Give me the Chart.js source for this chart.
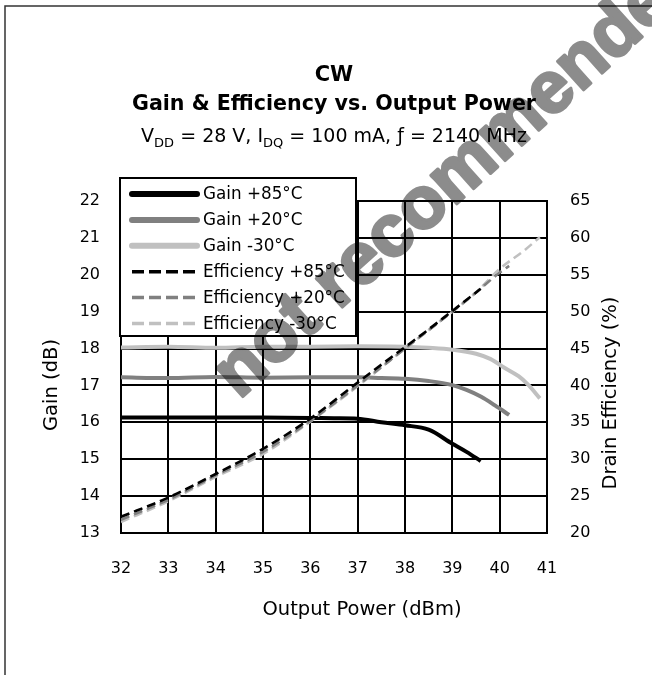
<!DOCTYPE html>
<html>
<head>
<meta charset="utf-8">
<script src="https://cdn.jsdelivr.net/npm/chart.js@4.4.1/dist/chart.umd.min.js"></script>
<style>
html,body{margin:0;padding:0;background:#fff;}
#wrap{width:652px;height:675px;position:relative;}
canvas{display:block;}
</style>
</head>
<body>
<div id="wrap"><canvas id="c" width="652" height="675"></canvas></div>
<script>
// ---------- text ----------
const titleLine1 = 'CW';
const titleLine2 = 'Gain & Efficiency vs. Output Power';
// subtitle pieces: [text, isSubscript]
const subtitleParts = [['V', false], ['DD', true], [' = 28 V, I', false], ['DQ', true], [' = 100 mA, ƒ = 2140 MHz', false]];
const xTitle = 'Output Power (dBm)';
const yTitle = 'Gain (dB)';
const y1Title = 'Drain Efficiency (%)';
const watermarkText = 'not recommended';

// ---------- tick labels ----------
const xTicks = [32, 33, 34, 35, 36, 37, 38, 39, 40, 41];
const gainTicks = [13, 14, 15, 16, 17, 18, 19, 20, 21, 22];
const effTicks = [20, 25, 30, 35, 40, 45, 50, 55, 60, 65];

// ---------- series ----------
const seriesLabels = ['Gain +85°C', 'Gain +20°C', 'Gain -30°C', 'Efficiency +85°C', 'Efficiency +20°C', 'Efficiency -30°C'];

const poutGain85 = [32, 33, 34, 35, 36, 36.5, 37, 37.5, 38, 38.5, 39, 39.3, 39.6];
const gain85     = [16.13, 16.13, 16.13, 16.13, 16.12, 16.11, 16.1, 16.0, 15.92, 15.8, 15.42, 15.2, 14.95];

const poutGain20 = [32, 33, 34, 35, 36, 37, 37.5, 38, 38.5, 39, 39.3, 39.6, 39.9, 40.2];
const gain20     = [17.22, 17.2, 17.23, 17.21, 17.22, 17.22, 17.2, 17.18, 17.12, 17.01, 16.88, 16.7, 16.46, 16.2];

const poutGainM30 = [32, 33, 34, 35, 36, 37, 38, 38.5, 39, 39.5, 39.8, 40.1, 40.4, 40.6, 40.85];
const gainM30     = [18.03, 18.05, 18.02, 18.05, 18.05, 18.06, 18.05, 18.02, 17.97, 17.86, 17.72, 17.48, 17.25, 17.02, 16.65];

const poutEff85 = [32, 33, 34, 35, 36, 37, 38, 38.5, 39, 39.6];
const eff85     = [22.2, 24.8, 28.0, 31.4, 35.5, 40.4, 45.2, 47.6, 50.1, 53.1];

const poutEff20 = [32, 33, 34, 35, 36, 37, 38, 38.5, 39, 39.5, 40, 40.2];
const eff20     = [21.8, 24.5, 27.8, 31.0, 35.2, 40.0, 45.0, 47.5, 50.0, 52.6, 55.3, 56.2];

const poutEffM30 = [32, 33, 34, 35, 36, 37, 38, 38.5, 39, 39.5, 40, 40.5, 40.85];
const effM30     = [21.5, 24.3, 27.6, 30.7, 35.1, 39.9, 45.0, 47.5, 50.0, 52.6, 55.8, 58.2, 60.1];

// ---------- helpers ----------
const FONT = "'DejaVu Sans', sans-serif";
const toPts = (xs, ys) => xs.map((x, i) => ({x: x, y: ys[i]}));
const setTicks = (vals) => (scale) => { scale.ticks = vals.map(v => ({value: v})); };

const gainStyle = (color) => ({borderColor: color, borderWidth: 4, borderDash: [], yAxisID: 'y', order: 2, legendWidth: 6});
const effStyle = (color) => ({borderColor: color, borderWidth: 2.6, borderDash: [9, 5], yAxisID: 'y1', order: 1, legendWidth: 3.5});

const datasets = [
  Object.assign({label: seriesLabels[0], data: toPts(poutGain85, gain85)}, gainStyle('#000000')),
  Object.assign({label: seriesLabels[1], data: toPts(poutGain20, gain20)}, gainStyle('#808080')),
  Object.assign({label: seriesLabels[2], data: toPts(poutGainM30, gainM30)}, gainStyle('#c0c0c0')),
  Object.assign({label: seriesLabels[3], data: toPts(poutEff85, eff85)}, effStyle('#000000')),
  Object.assign({label: seriesLabels[4], data: toPts(poutEff20, eff20)}, effStyle('#808080')),
  Object.assign({label: seriesLabels[5], data: toPts(poutEffM30, effM30)}, effStyle('#c0c0c0'))
];

// ---------- plugins ----------
const framePlugin = {
  id: 'frame',
  beforeDraw(chart) {
    const ctx = chart.ctx;
    ctx.save();
    ctx.fillStyle = '#fff';
    ctx.fillRect(0, 0, chart.width, chart.height);
    ctx.strokeStyle = '#333';
    ctx.lineWidth = 1.5;
    ctx.beginPath();
    ctx.moveTo(5, chart.height + 2);
    ctx.lineTo(5, 6);
    ctx.lineTo(chart.width + 2, 6);
    ctx.stroke();
    ctx.restore();
  }
};

const titlePlugin = {
  id: 'titles',
  afterDraw(chart) {
    const ctx = chart.ctx;
    const ca = chart.chartArea;
    const cx = (ca.left + ca.right) / 2;
    ctx.save();
    ctx.fillStyle = '#000';
    ctx.textAlign = 'center';
    ctx.textBaseline = 'alphabetic';
    ctx.font = 'bold 21px ' + FONT;
    ctx.fillText(titleLine1, cx, 81);
    ctx.font = 'bold 20.6px ' + FONT;
    ctx.fillText(titleLine2, cx, 110);

    // subtitle with subscripts
    const mainFont = '19px ' + FONT;
    const subFont = '13px ' + FONT;
    let total = 0;
    subtitleParts.forEach(([t, sub]) => { ctx.font = sub ? subFont : mainFont; total += ctx.measureText(t).width; });
    let x = cx - total / 2;
    const base = 142;
    ctx.textAlign = 'left';
    subtitleParts.forEach(([t, sub]) => {
      ctx.font = sub ? subFont : mainFont;
      ctx.fillText(t, x, sub ? base + 5 : base);
      x += ctx.measureText(t).width;
    });

    // axis titles
    ctx.font = '19.5px ' + FONT;
    ctx.textAlign = 'center';
    ctx.textBaseline = 'middle';
    ctx.fillText(chart.options.scales.x.title.text, cx + 28, 610);
    ctx.save();
    ctx.translate(52, ca.top + (ca.bottom - ca.top) / 2 + 18);
    ctx.rotate(-Math.PI / 2);
    ctx.fillText(chart.options.scales.y.title.text, 0, 0);
    ctx.restore();
    ctx.save();
    ctx.translate(611, ca.top + (ca.bottom - ca.top) / 2 + 26);
    ctx.rotate(-Math.PI / 2);
    ctx.fillText(chart.options.scales.y1.title.text, 0, 0);
    ctx.restore();
    ctx.restore();
  }
};

const legendPlugin = {
  id: 'boxLegend',
  afterDatasetsDraw(chart) {
    const ctx = chart.ctx;
    const ca = chart.chartArea;
    const left = ca.left - 1, top = ca.top - 23, w = 236, h = 158;
    const rowH = 25.9;
    ctx.save();
    ctx.fillStyle = '#fff';
    ctx.fillRect(left, top, w, h);
    ctx.strokeStyle = '#000';
    ctx.lineWidth = 2;
    ctx.strokeRect(left, top, w, h);
    ctx.font = '16.8px ' + FONT;
    ctx.textBaseline = 'middle';
    ctx.textAlign = 'left';
    chart.data.datasets.forEach((ds, i) => {
      const y = top + 16 + i * rowH;
      ctx.beginPath();
      ctx.strokeStyle = ds.borderColor;
      ctx.lineWidth = ds.legendWidth;
      ctx.lineCap = ds.borderDash.length ? 'butt' : 'round';
      ctx.setLineDash(ds.borderDash.length ? [12, 5] : []);
      ctx.moveTo(left + 12, y);
      ctx.lineTo(left + 77, y);
      ctx.stroke();
      ctx.setLineDash([]);
      ctx.fillStyle = '#000';
      ctx.fillText(ds.label, left + 83, y + 1);
    });
    ctx.restore();
  }
};

const watermarkPlugin = {
  id: 'watermark',
  afterDraw(chart) {
    const ctx = chart.ctx;
    // draw the watermark text (fill + outline) on a helper layer, then multiply it over the chart
    const layer = document.createElement('canvas');
    layer.width = chart.width;
    layer.height = chart.height;
    const lc = layer.getContext('2d');
    lc.fillStyle = '#8c8c8c';
    lc.strokeStyle = '#8c8c8c';
    lc.lineWidth = 3;
    lc.lineJoin = 'round';
    lc.font = "bold 73px 'Liberation Sans', Arial, sans-serif";
    lc.textBaseline = 'alphabetic';
    lc.translate(239, 400);
    lc.rotate(-42 * Math.PI / 180);
    lc.fillText(watermarkText, 0, 0);
    lc.strokeText(watermarkText, 0, 0);
    ctx.save();
    ctx.globalCompositeOperation = 'multiply';
    ctx.drawImage(layer, 0, 0);
    ctx.restore();
  }
};

// ---------- chart ----------
const gridCommon = {color: '#000', lineWidth: 2, drawTicks: false};
const tickFont = {family: FONT, size: 16};

new Chart(document.getElementById('c'), {
  type: 'line',
  data: {datasets: datasets},
  options: {
    responsive: false,
    animation: false,
    devicePixelRatio: 1,
    layout: {padding: {top: 201, left: 0, right: 0, bottom: 0}},
    plugins: {legend: {display: false}, title: {display: false}, tooltip: {enabled: false}},
    elements: {
      point: {radius: 0, hoverRadius: 0},
      line: {cubicInterpolationMode: 'monotone', borderCapStyle: 'butt', borderJoinStyle: 'round'}
    },
    scales: {
      x: {
        type: 'linear', min: 32, max: 41,
        afterBuildTicks: setTicks(xTicks),
        afterFit: (s) => { s.height = 142; },
        grid: gridCommon,
        border: {display: true, color: '#000', width: 2},
        ticks: {padding: 26, font: tickFont, color: '#000', autoSkip: false, maxRotation: 0},
        title: {display: false, text: xTitle}
      },
      y: {
        type: 'linear', position: 'left', min: 13, max: 22,
        afterBuildTicks: setTicks(gainTicks),
        afterFit: (s) => { s.width = 121; },
        grid: gridCommon,
        border: {display: true, color: '#000', width: 2},
        ticks: {padding: 21, font: tickFont, color: '#000', autoSkip: false},
        title: {display: false, text: yTitle}
      },
      y1: {
        type: 'linear', position: 'right', min: 20, max: 65,
        afterBuildTicks: setTicks(effTicks),
        afterFit: (s) => { s.width = 105; },
        grid: {drawOnChartArea: false, drawTicks: false},
        border: {display: true, color: '#000', width: 2},
        ticks: {padding: 23, font: tickFont, color: '#000', autoSkip: false},
        title: {display: false, text: y1Title}
      }
    }
  },
  plugins: [framePlugin, legendPlugin, titlePlugin, watermarkPlugin]
});
</script>
</body>
</html>
